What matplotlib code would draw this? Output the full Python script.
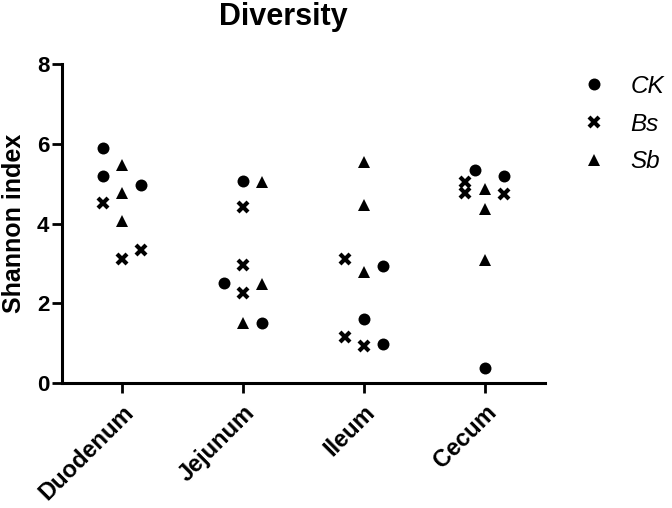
import matplotlib
matplotlib.use("Agg")
import matplotlib.pyplot as plt
import numpy as np

plt.rcParams['font.family'] = ['Liberation Sans', 'DejaVu Sans']

categories = ['Duodenum', 'Jejunum', 'Ileum', 'Cecum']
groups = ['CK', 'Bs', 'Sb']

ck_values = [[5.90, 5.19, 4.97], [2.50, 5.07, 1.51], [2.92, 1.59, 0.96], [5.34, 5.20, 0.38]]
bs_values = [[4.51, 3.11, 3.33], [4.41, 2.96, 2.25], [3.10, 1.16, 0.92], [5.05, 4.76, 4.74]]
sb_values = [[5.47, 4.77, 4.07], [5.05, 2.47, 1.51], [5.55, 4.46, 2.77], [4.86, 4.36, 3.08]]

# scatter column (jitter slot) of each point
ck_cols = [[-1, -1, 1], [-1, 0, 1], [1, 0, 1], [-0.5, 1, 0]]
bs_cols = [[-1, 0, 1], [0, 0, 0], [-1, -1, 0], [-1, -1, 1]]
sb_cols = [[0, 0, 0], [1, 1, 0], [0, 0, 0], [0, 0, 0]]

yticks = [0, 2, 4, 6, 8]

W, H = 672, 508
fig = plt.figure(figsize=(W / 100, H / 100), dpi=100)
ax = fig.add_axes([61.7 / W, 1 - 382.7 / H, (545 - 61.7) / W, (382.7 - 64.3) / H])

slot = 0.158
styles = [
    dict(marker='o', ms=8.6, mfc='black', mec='black', mew=0),
    dict(marker='x', ms=6.5, mfc='black', mec='black', mew=3.0),
    dict(marker='^', ms=8.4, mfc='black', mec='black', mew=0),
]
for name, vals, cols, st in zip(groups, [ck_values, bs_values, sb_values],
                                [ck_cols, bs_cols, sb_cols], styles):
    xs, ys = [], []
    for i, (v, c) in enumerate(zip(vals, cols)):
        xs += [i + slot * cc for cc in c]
        ys += v
    ax.plot(xs, ys, ls='none', label=name, clip_on=False, **st)

ax.set_xlim(-0.5, 3.5)
ax.set_ylim(0, 8)
ax.set_yticks(yticks)
ax.set_xticks(range(len(categories)))
ax.set_xticklabels(categories, rotation=45, ha='right', va='top',
                   rotation_mode='anchor', fontsize=17, fontweight='bold')
for lab in ax.get_yticklabels():
    lab.set_fontsize(16)
    lab.set_fontweight('bold')

for s in ['top', 'right']:
    ax.spines[s].set_visible(False)
for s in ['left', 'bottom']:
    ax.spines[s].set_linewidth(2.2)
ax.tick_params(axis='both', width=2.0, length=7.0, pad=2)
ax.tick_params(axis='x', pad=6)

ax.set_ylabel('Shannon index', fontsize=18, fontweight='bold', labelpad=8)

fig.text(283.5 / W, 1 - 25.5 / H, 'Diversity', ha='center', va='baseline',
         fontsize=22, fontweight='bold')

leg = ax.legend(loc='upper left', bbox_to_anchor=(582 / W, 1 - 75 / H),
                bbox_transform=fig.transFigure, frameon=False,
                prop=dict(size=17.5, style='italic'), handlelength=1.0,
                handletextpad=1.0, labelspacing=0.6, borderpad=0,
                borderaxespad=0)

fig.savefig('out.png', dpi=100)
